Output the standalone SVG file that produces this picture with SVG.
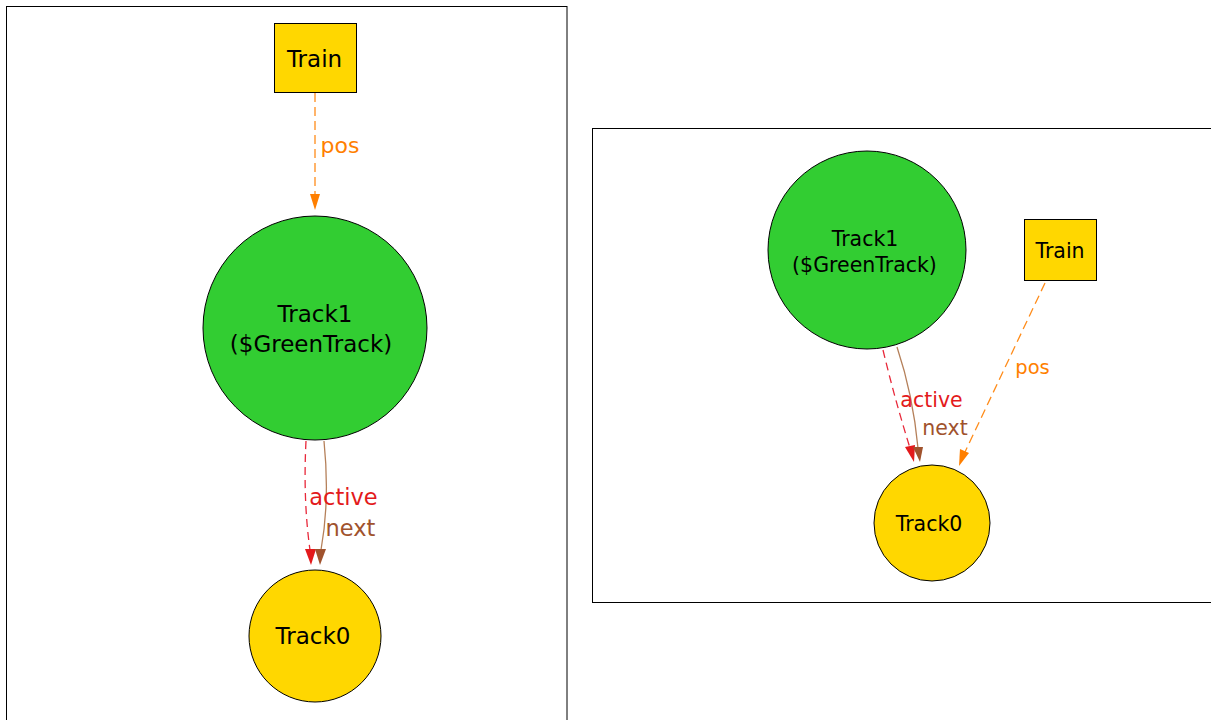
<svg xmlns="http://www.w3.org/2000/svg" width="1211" height="720" viewBox="0 0 1211 720">
  <style>
    .frame { fill: #ffffff; stroke: #000000; stroke-width: 1; }
    .train { fill: #ffd700; stroke: #000000; stroke-width: 1; }
    .green { fill: #32cd32; stroke: #000000; stroke-width: 1; }
    .gold { fill: #ffd700; stroke: #000000; stroke-width: 1; }
    text { font-family: "DejaVu Sans", sans-serif; text-anchor: middle; }
    .edge { fill: none; stroke-width: 1.3; }
    .pos { stroke: #ff8c1a; stroke-dasharray: 9 5; }
    .active { stroke: #e8283a; stroke-dasharray: 8 5; }
    .next { stroke: #b5805a; }
    .lpos { fill: #ff7f00; }
    .lactive { fill: #e31a1c; }
    .lnext { fill: #a0522d; }
  </style>

  <!-- panel frames -->
  <rect class="frame" x="6.5" y="6.5" width="560.5" height="730"/>
  <rect class="frame" x="592.5" y="128.5" width="640" height="474"/>

  <!-- left panel -->
  <g id="connectors-left">
    <line class="edge pos" x1="315" y1="93" x2="315" y2="195"/>
    <polygon points="310,194 320,194 315,210" fill="#ff7f00"/>
    <path class="edge active" d="M306,441 Q303,500 310,550"/>
    <polygon points="305,549 316,549 311,565" fill="#e31a1c"/>
    <path class="edge next" d="M324,441 Q330,500 321,550"/>
    <polygon points="315,549 326,549 320,565" fill="#a0522d"/>
    <text class="lpos" x="340" y="153" font-size="22">pos</text>
    <text class="lactive" x="343.5" y="505" font-size="22.5">active</text>
    <text class="lnext" x="350.5" y="536" font-size="22.5">next</text>
  </g>
  <g id="train-left">
    <rect class="train" x="274.5" y="23.5" width="82" height="69"/>
    <text x="314.5" y="67" font-size="23">Train</text>
  </g>
  <g id="track1-left">
    <circle class="green" cx="315" cy="328" r="112"/>
    <text x="315" y="322" font-size="23">Track1</text>
    <text x="311" y="352" font-size="23">($GreenTrack)</text>
  </g>
  <g id="track0-left">
    <circle class="gold" cx="315" cy="636" r="66"/>
    <text x="313" y="644" font-size="23">Track0</text>
  </g>

  <!-- right panel -->
  <g id="connectors-right">
    <path class="edge active" d="M883,350 Q895,400 910,448"/>
    <polygon points="905,447 915,445 914,462" fill="#e31a1c"/>
    <path class="edge next" d="M897,347 Q913,395 918,448"/>
    <polygon points="913,447 923,447 920,462" fill="#a0522d"/>
    <line class="edge pos" x1="1045" y1="283" x2="965" y2="452"/>
    <polygon points="960,449 969,453 959,466" fill="#ff7f00"/>
    <text class="lpos" x="1032.5" y="374" font-size="19.5">pos</text>
    <text class="lactive" x="931.5" y="407" font-size="20.5">active</text>
    <text class="lnext" x="945" y="435" font-size="20.5">next</text>
  </g>
  <g id="track1-right">
    <circle class="green" cx="867" cy="250" r="99"/>
    <text x="865" y="246" font-size="20.5">Track1</text>
    <text x="864.5" y="272" font-size="20.5">($GreenTrack)</text>
  </g>
  <g id="train-right">
    <rect class="train" x="1024.5" y="219.5" width="72" height="61"/>
    <text x="1060" y="258" font-size="20.5">Train</text>
  </g>
  <g id="track0-right">
    <circle class="gold" cx="932" cy="523" r="58"/>
    <text x="929" y="531" font-size="20.5">Track0</text>
  </g>
</svg>
